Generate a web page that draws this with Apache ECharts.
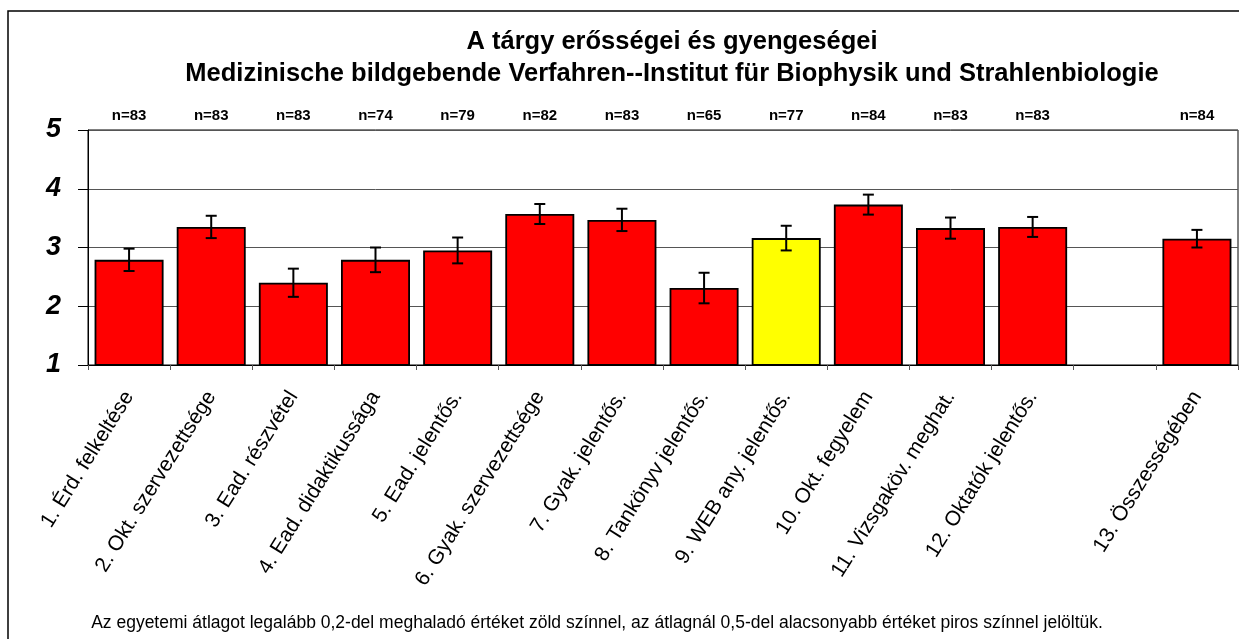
<!DOCTYPE html>
<html>
<head>
<meta charset="utf-8">
<script src="https://cdn.jsdelivr.net/npm/echarts@6/dist/echarts.min.js"></script>
<style>
  html, body { margin: 0; padding: 0; background: #fff; }
  #chart { width: 1239px; height: 639px; }
</style>
</head>
<body>
<div id="chart"></div>
<script>
// categories, the empty slot between 12 and 13 is a gap in the original
const categories = [
  '1. Érd. felkeltése', '2. Okt. szervezettsége', '3. Ead. részvétel',
  '4. Ead. didaktikussága', '5. Ead. jelentős.', '6. Gyak. szervezettsége',
  '7. Gyak. jelentős.', '8. Tankönyv jelentős.', '9. WEB any. jelentős.',
  '10. Okt. fegyelem', '11. Vizsgaköv. meghat.', '12. Oktatók jelentős.',
  '', '13. Összességében'
]
const nLabels = ['n=83', 'n=83', 'n=83', 'n=74', 'n=79', 'n=82', 'n=83', 'n=65', 'n=77', 'n=84', 'n=83', 'n=83', '', 'n=84']
const means = [2.79, 3.35, 2.40, 2.79, 2.95, 3.57, 3.47, 2.31, 3.16, 3.73, 3.33, 3.35, null, 3.15]
const errors = [0.19, 0.19, 0.24, 0.21, 0.22, 0.17, 0.19, 0.26, 0.21, 0.17, 0.18, 0.17, null, 0.15]
const yTicks = [1, 2, 3, 4, 5]
const highlightIdx = [8] // yellow bar

const font = 'Liberation Sans, Arial, sans-serif'

const chart = echarts.init(document.getElementById('chart'))

const barData = means.map((v, i) => ({
  value: v == null ? '-' : v,
  itemStyle: { color: highlightIdx.includes(i) ? '#ffff00' : '#ff0000' }
}))

const errData = []
means.forEach((v, i) => {
  if (v != null) errData.push([i, v - errors[i], v + errors[i]])
})

const option = {
  animation: false,
  backgroundColor: '#fff',
  title: {
    text: 'A tárgy erősségei és gyengeségei\nMedizinische bildgebende Verfahren--Institut für Biophysik und Strahlenbiologie',
    left: 667,
    top: 21,
    textAlign: 'center',
    textStyle: { fontFamily: font, fontSize: 25.5, fontWeight: 'bold', color: '#000', lineHeight: 32 }
  },
  grid: {
    left: 88, right: 1, top: 130, bottom: 274,
    show: true, borderColor: '#000', borderWidth: 1
  },
  xAxis: [{
    type: 'category',
    data: categories,
    position: 'bottom',
    axisLine: { lineStyle: { color: '#000' } },
    axisTick: { show: true, length: 5, lineStyle: { color: '#555' } },
    axisLabel: {
      interval: 0, rotate: 58, margin: 28,
      fontFamily: font, fontSize: 21, color: '#000'
    }
  }, {
    type: 'category',
    data: nLabels,
    position: 'top',
    axisLine: { show: false },
    axisTick: { show: false },
    axisLabel: {
      interval: 0, margin: 7,
      fontFamily: font, fontSize: 15, fontWeight: 'bold', color: '#000'
    }
  }],
  yAxis: {
    type: 'value',
    min: yTicks[0], max: yTicks[yTicks.length - 1], interval: 1,
    axisLine: { show: true, lineStyle: { color: '#000' } },
    axisTick: { show: true, length: 10, lineStyle: { color: '#000' } },
    splitLine: { lineStyle: { color: '#555', width: 1 } },
    axisLabel: {
      margin: 27,
      fontFamily: font, fontSize: 27, fontWeight: 'bold', fontStyle: 'italic', color: '#000'
    }
  },
  series: [{
    type: 'bar',
    data: barData,
    barCategoryGap: '16%',
    itemStyle: { borderColor: '#000', borderWidth: 1.8 }
  }, {
    type: 'custom',
    data: errData,
    z: 5,
    renderItem: (params, api) => {
      const x = api.value(0)
      const lo = api.coord([x, api.value(1)])
      const hi = api.coord([x, api.value(2)])
      const w = 5.5
      const style = { stroke: '#000', lineWidth: 2 }
      return {
        type: 'group',
        children: [
          { type: 'line', shape: { x1: lo[0], y1: lo[1], x2: hi[0], y2: hi[1] }, style },
          { type: 'line', shape: { x1: lo[0] - w, y1: lo[1], x2: lo[0] + w, y2: lo[1] }, style },
          { type: 'line', shape: { x1: hi[0] - w, y1: hi[1], x2: hi[0] + w, y2: hi[1] }, style }
        ]
      }
    }
  }],
  graphic: [{
    type: 'rect',
    shape: { x: 8, y: 11, width: 1260, height: 660 },
    style: { fill: 'none', stroke: '#000', lineWidth: 1.5 },
    silent: true
  }, {
    type: 'text',
    x: 597, y: 623,
    style: {
      text: 'Az egyetemi átlagot legalább 0,2-del meghaladó értéket zöld színnel, az átlagnál 0,5-del alacsonyabb értéket piros színnel jelöltük.',
      fontFamily: font, fontSize: 17.5, fill: '#000', align: 'center', verticalAlign: 'middle'
    }
  }]
}

chart.setOption(option)
</script>
</body>
</html>
